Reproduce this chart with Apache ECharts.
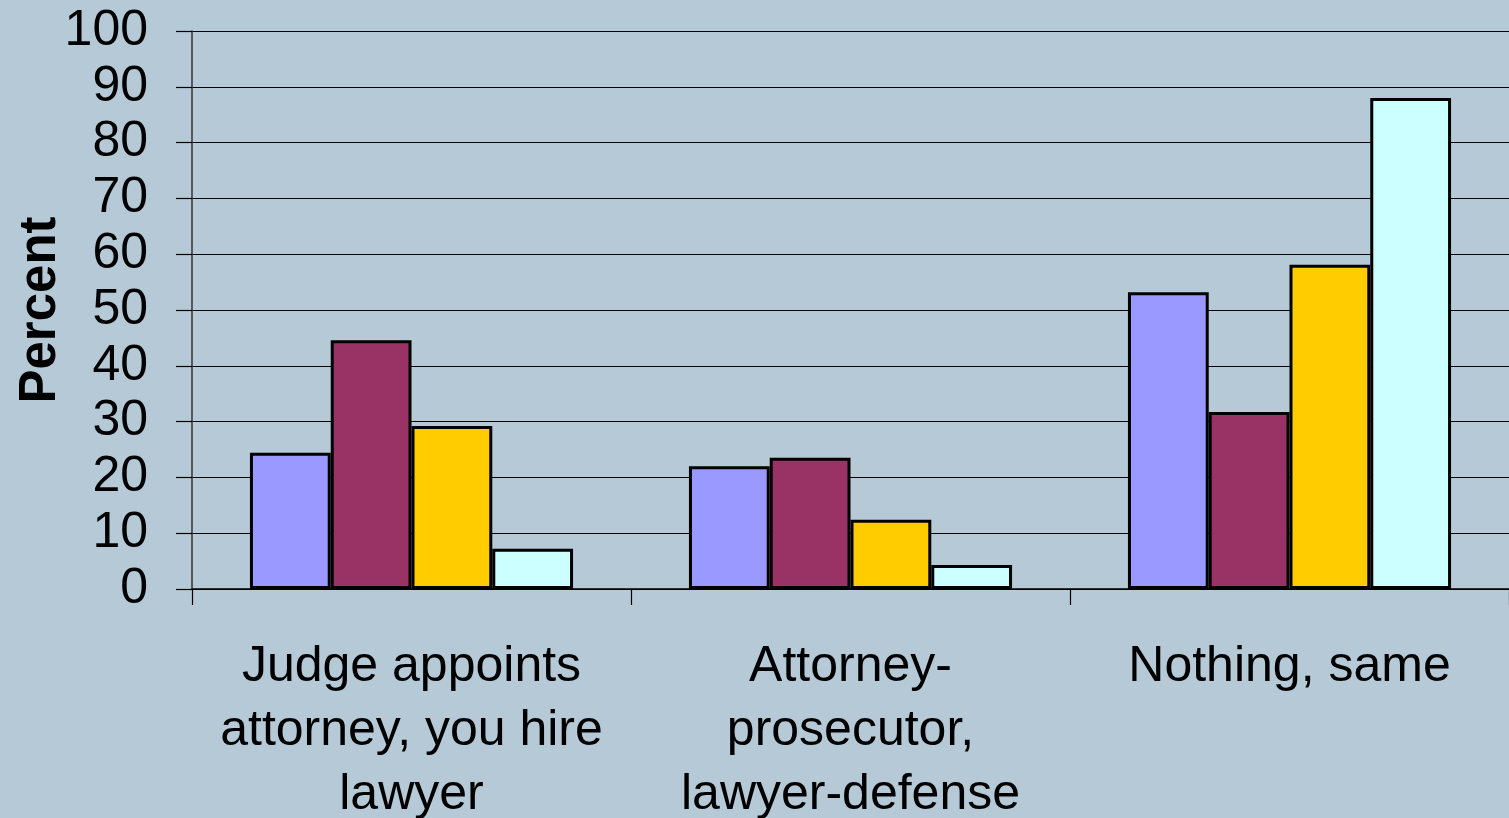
<!DOCTYPE html>
<html><head><meta charset="utf-8">
<script src="https://cdn.jsdelivr.net/npm/echarts@6/dist/echarts.min.js"></script>
<style>html,body{margin:0;padding:0;background:#B5C9D6;}#c{width:1509px;height:818px;}</style>
</head><body><div id="c"></div>
<script>
const categories = ["Judge appoints\nattorney, you hire\nlawyer", "Attorney-\nprosecutor,\nlawyer-defense", "Nothing, same"];
const seriesNames = ["Series 1", "Series 2", "Series 3", "Series 4"];
const series1 = [24.4, 22.0, 53.2];
const series2 = [44.6, 23.5, 31.7];
const series3 = [29.2, 12.4, 58.1];
const series4 = [7.2, 4.3, 88.0];
const colors = ["#9999FF", "#993366", "#FFCC00", "#CCFFFF"];
const yTicks = [0, 100, 10];

const chart = echarts.init(document.getElementById('c'), null, {renderer: 'canvas'});
const font = 'Liberation Sans, Arial, sans-serif';
chart.setOption({
  backgroundColor: '#B5C9D6',
  animation: false,
  grid: {left: 192, right: 0, top: 31, bottom: 229, containLabel: false, outerBoundsMode: 'none'},
  xAxis: {
    type: 'category', data: categories,
    axisLine: {lineStyle: {color: '#000', width: 1.5}},
    axisTick: {show: true, length: 16, lineStyle: {color: '#000', width: 1.2}},
    axisLabel: {color: '#000', fontSize: 50, fontFamily: font, lineHeight: 64, margin: 46, interval: 0}
  },
  yAxis: {
    type: 'value', min: yTicks[0], max: yTicks[1], interval: yTicks[2],
    name: 'Percent', nameLocation: 'middle', nameGap: 126, nameRotate: 90, nameMoveOverlap: false,
    nameTextStyle: {color: '#000', fontSize: 51, fontWeight: 'bold', fontFamily: font},
    axisLine: {show: true, lineStyle: {color: '#333', width: 1.5}},
    axisTick: {show: true, inside: false, length: 16, lineStyle: {color: '#000', width: 1.2}},
    axisLabel: {color: '#000', fontSize: 50, fontFamily: font, margin: 44},
    splitLine: {show: true, lineStyle: {color: '#000', width: 1.2}}
  },
  series: [series1, series2, series3, series4].map((d, i) => ({
    name: seriesNames[i], type: 'bar', data: d,
    barGap: '0%', barCategoryGap: '26.4%',
    itemStyle: {color: colors[i], borderColor: '#000', borderWidth: 3}
  }))
});
</script></body></html>
